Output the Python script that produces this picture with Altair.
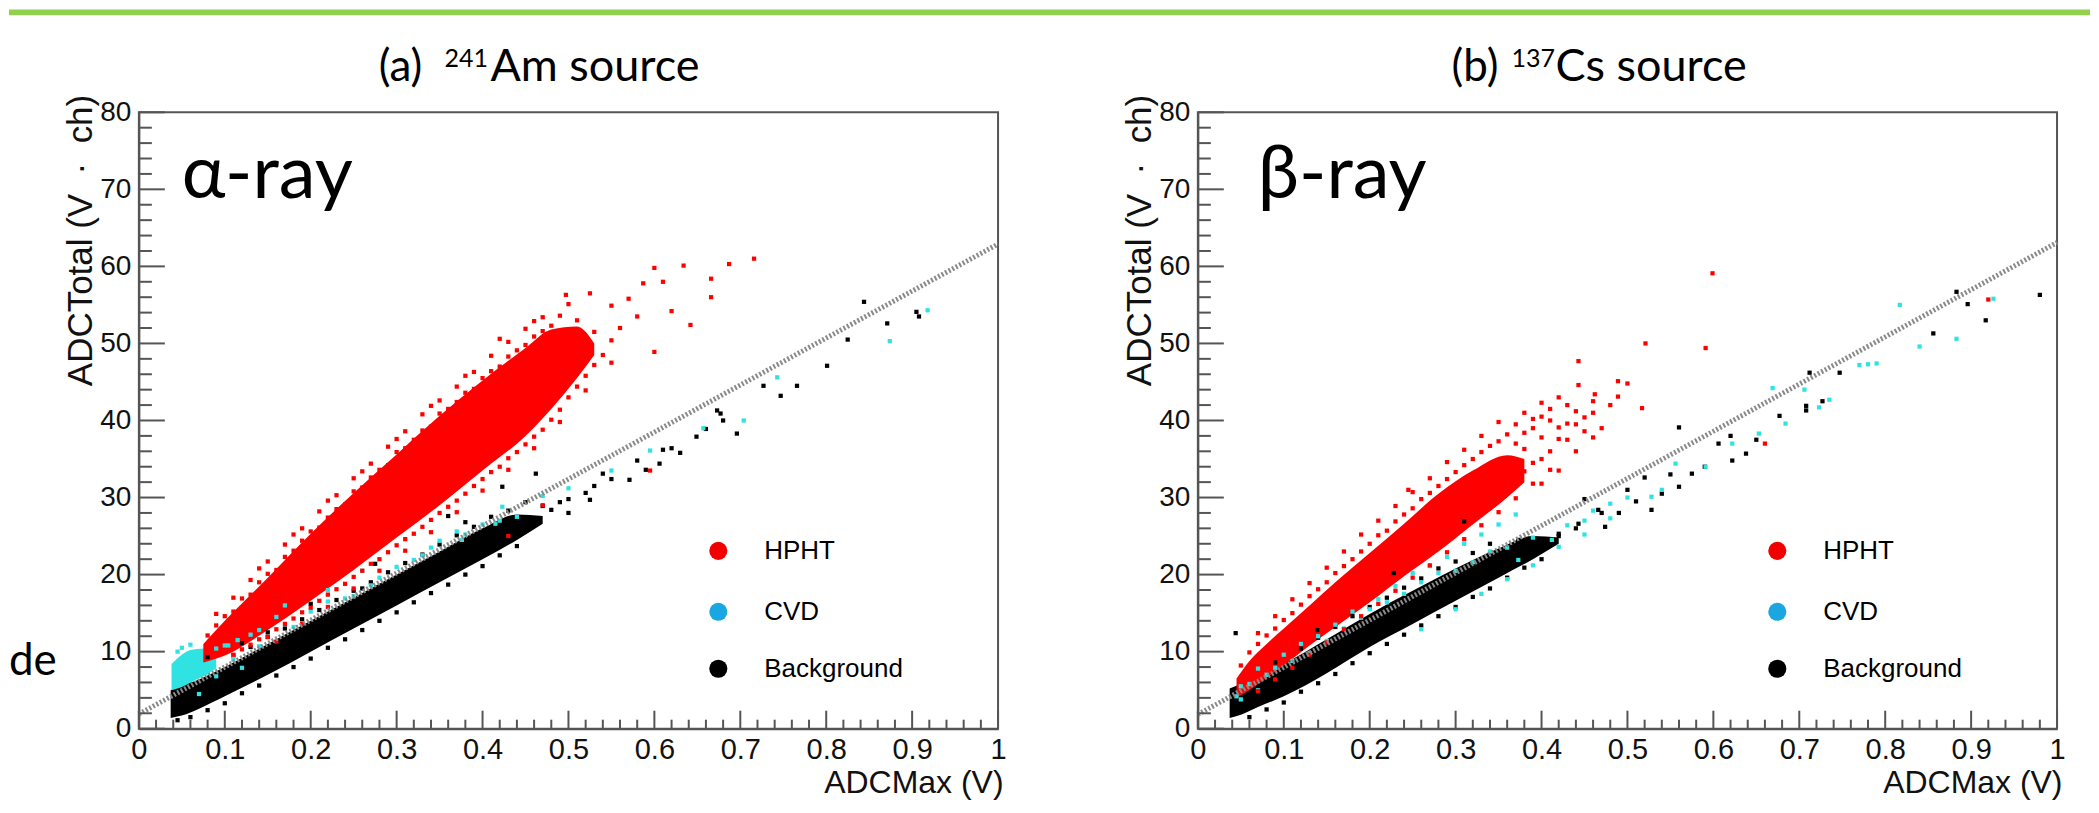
import altair as alt
import pandas as pd

PW, PH = 860, 617
RED, CYAN, BLACK = "#ff0000", "#2fe3e3", "#000000"
LEG_COLORS = ["#f20000", "#1aa6e0", "#000000"]
LEG_LABELS = ["HPHT", "CVD", "Background"]

X_MAJOR = [0, 0.1, 0.2, 0.3, 0.4, 0.5, 0.6, 0.7, 0.8, 0.9, 1.0]
X_MINOR = [round(i * 0.02, 2) for i in range(51) if i % 5]
Y_MAJOR = [0, 10, 20, 30, 40, 50, 60, 70, 80]
Y_MINOR = [v for v in range(0, 81, 2) if v % 10]

# ---------------- panel (a) 241Am source ----------------
A_LINE_X = [0.0, 1.0]
A_LINE_Y = [1.9, 62.9]

A_RED_CORE_X = [0.075, 0.10, 0.15, 0.20, 0.25, 0.30, 0.35, 0.40, 0.45, 0.48, 0.51, 0.53]
A_RED_CORE_LO = [8.6, 9.5, 12.8, 16.6, 20.6, 24.8, 29.0, 33.5, 38.0, 41.5, 45.5, 48.5]
A_RED_CORE_HI = [11.0, 14.0, 19.6, 25.3, 30.6, 35.6, 40.6, 45.2, 49.4, 51.8, 52.2, 50.0]

A_BG_CORE_X = [0.037, 0.05, 0.07, 0.10, 0.15, 0.20, 0.25, 0.30, 0.35, 0.40, 0.44, 0.47]
A_BG_CORE_LO = [1.4, 1.7, 2.6, 4.2, 7.0, 10.0, 13.0, 16.0, 19.0, 22.0, 24.5, 26.6]
A_BG_CORE_HI = [5.0, 5.6, 6.4, 8.0, 11.0, 14.0, 17.0, 20.0, 23.0, 26.0, 27.8, 27.6]

A_CVD_CORE_X = [0.038, 0.05, 0.06, 0.075, 0.09]
A_CVD_CORE_LO = [5.0, 5.4, 6.0, 6.8, 7.8]
A_CVD_CORE_HI = [8.4, 9.6, 10.2, 10.4, 9.8]

A_RED_PTS = [
    # upper fringe
    (0.08, 12.1), (0.09, 13.4), (0.10, 14.6), (0.11, 15.2), (0.12, 16.9), (0.13, 17.4), (0.14, 19.0),
    (0.15, 20.1), (0.16, 20.6), (0.17, 22.3), (0.18, 23.1), (0.19, 24.4), (0.20, 25.6), (0.21, 26.1),
    (0.22, 27.4), (0.23, 28.5), (0.24, 29.1), (0.25, 30.8), (0.26, 31.3), (0.27, 32.6), (0.28, 33.6),
    (0.29, 34.2), (0.30, 35.9), (0.31, 36.4), (0.32, 37.5), (0.33, 38.7), (0.34, 39.2), (0.35, 40.9),
    (0.36, 41.5), (0.37, 42.4), (0.38, 43.6), (0.39, 44.1), (0.40, 45.5), (0.41, 46.4), (0.42, 47.0),
    (0.43, 48.3), (0.44, 49.1), (0.45, 49.8), (0.46, 50.9), (0.47, 51.6), (0.48, 52.3),
    (0.09, 14.9), (0.11, 17.0), (0.13, 19.3), (0.15, 21.7), (0.17, 23.9), (0.19, 26.0), (0.21, 28.2),
    (0.23, 30.3), (0.25, 32.5), (0.27, 34.4), (0.29, 36.6), (0.31, 38.6), (0.33, 40.8), (0.35, 42.6),
    (0.37, 44.4), (0.39, 46.3), (0.41, 48.4), (0.43, 50.2), (0.45, 51.9), (0.47, 53.4),
    (0.14, 20.8), (0.18, 25.2), (0.22, 29.6), (0.26, 33.4), (0.30, 37.6), (0.34, 41.9), (0.38, 45.8),
    (0.42, 50.6), (0.46, 52.9), (0.49, 53.6), (0.50, 55.1),
    # lower fringe
    (0.11, 9.6), (0.12, 10.3), (0.13, 10.9), (0.14, 11.6), (0.15, 11.9), (0.16, 12.9), (0.17, 13.6),
    (0.18, 14.3), (0.19, 15.1), (0.20, 15.7), (0.21, 16.6), (0.22, 17.4), (0.23, 18.1), (0.24, 18.8),
    (0.25, 19.7), (0.26, 20.5), (0.27, 21.4), (0.28, 22.0), (0.29, 22.9), (0.30, 23.8), (0.31, 24.6),
    (0.32, 25.3), (0.33, 26.2), (0.34, 27.1), (0.35, 28.0), (0.36, 28.8), (0.37, 29.6), (0.38, 30.5),
    (0.39, 31.5), (0.40, 32.4), (0.41, 33.3), (0.42, 34.0), (0.43, 35.1), (0.44, 35.9), (0.45, 36.9),
    (0.46, 37.9), (0.47, 38.8), (0.48, 40.1), (0.49, 41.4), (0.50, 43.0), (0.51, 44.4), (0.52, 45.8),
    (0.53, 47.2), (0.54, 48.5),
    (0.16, 11.3), (0.19, 13.6), (0.22, 15.8), (0.25, 18.2), (0.28, 20.5), (0.31, 23.1), (0.34, 25.5),
    (0.37, 28.1), (0.40, 30.9), (0.43, 33.6), (0.46, 36.4), (0.49, 39.8), (0.52, 43.9), (0.55, 47.5),
    # sparse upper tail
    (0.497, 56.3), (0.51, 53.0), (0.525, 56.5), (0.53, 51.5), (0.55, 54.9), (0.55, 50.4), (0.56, 52.0),
    (0.57, 55.8), (0.58, 53.5), (0.587, 57.8), (0.60, 59.8), (0.60, 48.9), (0.61, 58.0), (0.62, 54.2),
    (0.634, 60.1), (0.642, 52.4), (0.666, 58.4), (0.666, 56.0), (0.687, 60.3), (0.716, 61.0),
    # strays
    (0.43, 25.0), (0.47, 29.0), (0.595, 33.5),
]

A_BG_PTS = [
    (0.045, 1.1), (0.06, 1.5), (0.08, 2.4), (0.10, 3.3), (0.12, 4.6), (0.14, 5.6), (0.16, 6.9),
    (0.18, 8.0), (0.20, 9.1), (0.22, 10.5), (0.24, 11.6), (0.26, 12.8), (0.28, 14.0), (0.30, 15.1),
    (0.32, 16.4), (0.34, 17.6), (0.36, 18.7), (0.38, 20.0), (0.40, 21.1), (0.42, 22.5), (0.44, 23.7),
    (0.11, 9.5), (0.13, 10.6), (0.15, 11.9), (0.17, 13.0), (0.19, 14.2), (0.21, 15.4), (0.23, 16.7),
    (0.25, 17.9), (0.27, 19.0), (0.29, 20.3), (0.31, 21.5), (0.33, 22.6), (0.35, 23.9), (0.37, 25.1),
    (0.39, 26.2), (0.41, 27.5), (0.43, 28.3),
    (0.08, 9.3), (0.12, 11.1), (0.15, 12.5), (0.20, 16.2), (0.26, 18.2), (0.275, 21.4), (0.36, 27.6),
    (0.38, 26.8), (0.423, 31.4), (0.45, 29.4), (0.462, 33.1),
    (0.46, 27.1), (0.47, 28.9), (0.48, 28.4), (0.49, 29.4), (0.50, 28.0), (0.50, 29.8), (0.52, 30.6),
    (0.525, 29.7), (0.53, 31.5), (0.54, 33.1), (0.55, 32.4), (0.571, 32.3), (0.58, 34.8), (0.59, 33.6),
    (0.606, 34.4), (0.61, 36.2), (0.62, 36.4), (0.63, 35.8), (0.649, 37.9), (0.66, 38.9), (0.673, 41.3),
    (0.677, 40.9), (0.68, 40.0), (0.696, 38.3), (0.727, 44.5), (0.747, 43.2), (0.766, 44.5),
    (0.801, 47.1), (0.825, 50.5), (0.844, 55.4), (0.871, 52.6), (0.905, 54.1), (0.908, 53.5),
]

A_CVD_PTS = [
    (0.045, 10.0), (0.05, 10.5), (0.06, 10.9), (0.07, 4.5), (0.09, 10.4), (0.09, 6.8), (0.10, 10.8),
    (0.104, 10.8), (0.11, 9.4), (0.115, 11.5), (0.12, 7.9), (0.13, 12.2), (0.14, 12.8), (0.16, 14.5),
    (0.17, 16.0), (0.20, 15.2), (0.22, 16.5), (0.22, 18.0), (0.25, 17.2), (0.26, 20.5), (0.27, 18.6),
    (0.30, 21.0), (0.33, 22.5), (0.35, 24.4), (0.376, 24.5), (0.38, 25.2), (0.40, 26.5), (0.415, 26.6),
    (0.423, 28.8), (0.44, 27.5), (0.47, 30.2), (0.50, 31.2), (0.55, 33.5), (0.595, 36.1), (0.657, 39.0),
    (0.704, 40.0), (0.743, 45.6), (0.874, 50.3), (0.918, 54.3),
    (0.08, 7.3), (0.11, 8.9), (0.14, 10.7), (0.18, 13.2), (0.24, 16.9), (0.28, 19.6), (0.32, 21.9),
    (0.34, 23.5), (0.37, 25.6), (0.42, 27.0),
]

# ---------------- panel (b) 137Cs source ----------------
B_LINE_X = [0.0, 1.0]
B_LINE_Y = [1.85, 63.1]

B_RED_CORE_X = [0.045, 0.06, 0.08, 0.10, 0.13, 0.16, 0.20, 0.24, 0.28, 0.32, 0.36, 0.38]
B_RED_CORE_LO = [4.0, 5.0, 6.6, 8.2, 10.8, 13.2, 16.4, 19.8, 23.0, 26.5, 30.0, 32.0]
B_RED_CORE_HI = [6.5, 8.8, 11.0, 13.0, 16.0, 19.0, 22.8, 26.6, 30.5, 33.5, 35.5, 35.0]

B_BG_CORE_X = [0.037, 0.05, 0.07, 0.10, 0.15, 0.20, 0.25, 0.30, 0.35, 0.39, 0.42]
B_BG_CORE_LO = [1.4, 1.8, 2.8, 4.2, 7.2, 10.6, 13.6, 16.6, 19.6, 22.0, 24.0]
B_BG_CORE_HI = [5.2, 5.8, 6.8, 8.4, 11.6, 14.9, 17.9, 20.8, 23.4, 25.0, 24.8]

B_RED_PTS = [
    # upper fringe
    (0.05, 8.2), (0.06, 9.9), (0.07, 11.0), (0.08, 12.1), (0.09, 13.0), (0.10, 14.1), (0.11, 15.0),
    (0.12, 16.1), (0.13, 17.2), (0.14, 18.1), (0.15, 19.0), (0.16, 20.2), (0.17, 21.1), (0.18, 22.0),
    (0.19, 23.0), (0.20, 24.0), (0.21, 25.1), (0.22, 25.7), (0.23, 26.9), (0.24, 27.8), (0.25, 28.6),
    (0.26, 29.8), (0.27, 30.6), (0.28, 31.5), (0.29, 32.4), (0.30, 33.3), (0.31, 34.2), (0.32, 35.0),
    (0.33, 35.9), (0.34, 36.7), (0.35, 37.3), (0.36, 38.2),
    (0.07, 12.4), (0.09, 14.6), (0.11, 16.8), (0.13, 18.9), (0.15, 20.9), (0.17, 23.0), (0.19, 25.2),
    (0.21, 27.0), (0.23, 28.9), (0.25, 30.7), (0.27, 32.5), (0.29, 34.6), (0.31, 36.2), (0.33, 38.0),
    (0.35, 39.8), (0.245, 31.0),
    # lower fringe
    (0.07, 4.9), (0.09, 6.4), (0.11, 7.9), (0.13, 9.6), (0.15, 11.2), (0.17, 12.9), (0.19, 14.6),
    (0.21, 16.2), (0.23, 17.9), (0.25, 19.6), (0.27, 21.2), (0.29, 22.9), (0.31, 24.6), (0.33, 26.4),
    (0.35, 28.1), (0.37, 29.9), (0.39, 31.8), (0.41, 33.6),
    # sparser upper part
    (0.37, 33.0), (0.38, 36.3), (0.39, 34.5), (0.40, 37.8), (0.41, 36.0), (0.42, 39.1), (0.43, 37.5),
    (0.44, 41.2), (0.45, 38.6), (0.46, 42.5), (0.37, 37.0), (0.39, 39.0), (0.41, 40.0), (0.36, 34.3),
    (0.38, 38.4), (0.40, 40.5), (0.37, 39.5), (0.38, 41.0), (0.39, 40.2), (0.40, 42.3), (0.41, 41.5),
    (0.42, 43.0), (0.43, 42.0), (0.443, 47.7), (0.443, 44.6), (0.462, 43.4), (0.489, 45.1), (0.50, 44.8),
    (0.489, 43.1), (0.517, 41.6), (0.521, 50.0), (0.591, 49.4), (0.599, 59.1), (0.44, 39.5), (0.45, 40.4),
    (0.46, 41.0), (0.47, 39.0), (0.48, 42.0), (0.38, 33.4), (0.40, 35.0), (0.42, 37.6), (0.40, 31.8),
    (0.42, 33.5), (0.44, 36.0), (0.46, 37.8), (0.43, 39.6),
    (0.66, 37.0), (0.92, 55.7),
]

B_BG_PTS = [
    (0.06, 1.5), (0.08, 2.5), (0.10, 3.4), (0.12, 4.8), (0.14, 5.9), (0.16, 7.1), (0.18, 8.5),
    (0.20, 9.8), (0.22, 11.0), (0.24, 12.2), (0.26, 13.4), (0.28, 14.6), (0.30, 15.8), (0.32, 17.1),
    (0.34, 18.2), (0.36, 19.6), (0.38, 20.9), (0.40, 22.0),
    (0.09, 8.6), (0.12, 10.4), (0.14, 11.8), (0.16, 13.2), (0.18, 14.6), (0.20, 15.8), (0.22, 17.0),
    (0.24, 18.3), (0.26, 19.5), (0.28, 20.8), (0.30, 21.7), (0.32, 22.8), (0.34, 24.0),
    (0.36, 21.8), (0.373, 24.5), (0.38, 22.6), (0.40, 23.5), (0.42, 25.0), (0.42, 25.3), (0.44, 26.0),
    (0.443, 26.6), (0.466, 28.4), (0.474, 26.2), (0.47, 28.0), (0.49, 28.0), (0.50, 31.0), (0.51, 29.5),
    (0.52, 32.6), (0.528, 28.4), (0.54, 30.5), (0.55, 33.0), (0.56, 31.4), (0.575, 33.1), (0.59, 34.0),
    (0.606, 37.0), (0.62, 38.0), (0.622, 34.8), (0.638, 35.7), (0.56, 39.1), (0.65, 37.5), (0.677, 40.6),
    (0.708, 41.3), (0.708, 41.9), (0.712, 46.2), (0.727, 42.5), (0.747, 46.2), (0.856, 51.3),
    (0.883, 56.7), (0.896, 55.1), (0.917, 53.0), (0.98, 56.3), (0.45, 29.8),
    (0.044, 12.4), (0.139, 12.8), (0.228, 20.2), (0.31, 26.9),
]

B_CVD_PTS = [
    (0.045, 4.2), (0.05, 3.8), (0.05, 5.5), (0.06, 5.8), (0.07, 5.0), (0.07, 7.8), (0.08, 7.0),
    (0.09, 7.9), (0.10, 9.6), (0.11, 8.8), (0.12, 11.0), (0.13, 9.8), (0.14, 12.0), (0.15, 11.4),
    (0.16, 13.5), (0.17, 13.0), (0.18, 15.2), (0.19, 14.4), (0.20, 15.5), (0.21, 16.8), (0.22, 16.4),
    (0.23, 18.5), (0.24, 17.5), (0.25, 20.2), (0.26, 19.0), (0.27, 21.1), (0.28, 20.2), (0.29, 22.3),
    (0.30, 20.5), (0.31, 24.0), (0.32, 21.6), (0.33, 25.2), (0.34, 23.0), (0.35, 26.5), (0.36, 23.5),
    (0.37, 27.8), (0.373, 21.9), (0.39, 24.8), (0.412, 24.5), (0.43, 26.4), (0.45, 27.0), (0.46, 28.3),
    (0.48, 29.2), (0.50, 30.0), (0.528, 30.1), (0.54, 31.0), (0.556, 34.4), (0.591, 34.0), (0.622, 37.0),
    (0.653, 38.3), (0.684, 39.6), (0.723, 41.7), (0.669, 44.2), (0.706, 44.0), (0.735, 42.7),
    (0.77, 47.2), (0.78, 47.3), (0.79, 47.4), (0.817, 55.0), (0.84, 49.6), (0.883, 50.6), (0.926, 55.8),
    (0.26, 12.9), (0.30, 15.5), (0.33, 17.5), (0.36, 19.4), (0.39, 21.2), (0.42, 23.6), (0.45, 25.2),
    (0.48, 27.3),
]

ONE = pd.DataFrame({"k": [0]})
YTITLE = "ADCTotal (V\u00a0\u00a0·\u00a0\u00a0ch)"

X_SCALE = alt.Scale(domain=[0, 1], nice=False, zero=False)
Y_SCALE = alt.Scale(domain=[0, 80], nice=False, zero=False)
X_AXIS = alt.Axis(values=X_MAJOR, format="~g", title="ADCMax (V)", ticks=False, grid=False,
                  labelFontSize=29, labelPadding=7, labelFlush=False, labelOverlap=False,
                  titleFontSize=32, titleX=865, titleY=64, titleAlign="right",
                  titleBaseline="alphabetic", titleAngle=0)
Y_AXIS = alt.Axis(values=Y_MAJOR, format="d", title=YTITLE, ticks=False, grid=False,
                  labelFontSize=28, labelPadding=8, labelFlush=False, labelOverlap=False,
                  titleFontSize=35, titleAngle=270, titleX=-47, titleY=-18, titleAlign="right",
                  titleBaseline="alphabetic")


def xe(f):
    return alt.X(f"{f}:Q", scale=X_SCALE, axis=X_AXIS)


def ye(f):
    return alt.Y(f"{f}:Q", scale=Y_SCALE, axis=Y_AXIS)


def core(xs, lo, hi, color):
    df = pd.DataFrame({"x": xs, "lo": lo, "hi": hi})
    return alt.Chart(df).mark_area(color=color, interpolate="monotone").encode(
        x=xe("x"), y=ye("lo"), y2="hi:Q")


def pts(p, color):
    df = pd.DataFrame(p, columns=["x", "y"])
    return alt.Chart(df).mark_square(size=18, color=color, opacity=1).encode(x=xe("x"), y=ye("y"))


def text(t, x, y, size, font="Lato, Open Sans", align="left", baseline="alphabetic"):
    return alt.Chart(ONE).mark_text(text=t, font=font, fontSize=size, align=align,
                                    baseline=baseline, color="#000").encode(
        x=alt.value(x), y=alt.value(y))


def panel(cores, points, line_x, line_y, title_parts, ray, ray_x, extra=()):
    layers = list(extra)
    layers += cores
    layers += points
    ldf = pd.DataFrame({"x": line_x, "y": line_y})
    layers.append(alt.Chart(ldf).mark_line(color="#8a8a8a", strokeWidth=5, strokeDash=[2, 2]).encode(
        x=xe("x"), y=ye("y")))
    # inside ticks
    layers.append(alt.Chart(pd.DataFrame({"v": X_MAJOR})).mark_rule(color="#555", strokeWidth=2).encode(
        x=xe("v"), y=alt.value(PH), y2=alt.value(PH - 18)))
    layers.append(alt.Chart(pd.DataFrame({"v": X_MINOR})).mark_rule(color="#555", strokeWidth=2).encode(
        x=xe("v"), y=alt.value(PH), y2=alt.value(PH - 9)))
    layers.append(alt.Chart(pd.DataFrame({"v": Y_MAJOR})).mark_rule(color="#555", strokeWidth=2).encode(
        y=ye("v"), x=alt.value(0), x2=alt.value(26)))
    layers.append(alt.Chart(pd.DataFrame({"v": Y_MINOR})).mark_rule(color="#555", strokeWidth=2).encode(
        y=ye("v"), x=alt.value(0), x2=alt.value(13)))
    # legend
    for i, (lab, col) in enumerate(zip(LEG_LABELS, LEG_COLORS)):
        yy = [439, 500, 557][i]
        layers.append(alt.Chart(ONE).mark_point(shape="circle", filled=True, size=330, color=col,
                                                opacity=1).encode(x=alt.value(580), y=alt.value(yy)))
        layers.append(text(lab, 626, yy, 26, font="Liberation Sans", baseline="middle"))
    # titles
    for (t, x, y, s) in title_parts:
        layers.append(text(t, x, y, s))
    layers.append(text(ray, ray_x, 86, 74))
    return alt.layer(*layers).properties(width=PW, height=PH)


green = alt.Chart(ONE).mark_rect(color="#92d050").encode(
    x=alt.value(-130), x2=alt.value(1953), y=alt.value(-103), y2=alt.value(-97))
de_text = text("de", -130, 563, 44)

left = panel(
    [core(A_BG_CORE_X, A_BG_CORE_LO, A_BG_CORE_HI, BLACK),
     core(A_CVD_CORE_X, A_CVD_CORE_LO, A_CVD_CORE_HI, CYAN),
     core(A_RED_CORE_X, A_RED_CORE_LO, A_RED_CORE_HI, RED)],
    [pts(A_BG_PTS, BLACK), pts(A_CVD_PTS, CYAN), pts(A_RED_PTS, RED)],
    A_LINE_X, A_LINE_Y,
    [("(a)", 240, -31, 44), ("241", 306, -45, 25), ("Am source", 352, -31, 45)],
    "α-ray", 43, extra=(green, de_text))

right = panel(
    [core(B_BG_CORE_X, B_BG_CORE_LO, B_BG_CORE_HI, BLACK),
     core(B_RED_CORE_X, B_RED_CORE_LO, B_RED_CORE_HI, RED)],
    [pts(B_BG_PTS, BLACK), pts(B_CVD_PTS, CYAN), pts(B_RED_PTS, RED)],
    B_LINE_X, B_LINE_Y,
    [("(b)", 254, -31, 44), ("137", 314, -45, 25), ("Cs source", 358, -31, 45)],
    "β-ray", 60)

chart = alt.hconcat(left, right, spacing=200, bounds="flush").properties(
    padding=0, background="white"
).configure_view(stroke="#555555", strokeWidth=2).configure_axis(
    domainColor="#555555", domainWidth=2, labelFont="Liberation Sans", titleFont="Liberation Sans",
    labelColor="#111111", titleColor="#111111", titleFontWeight="normal")

chart.save("out.html", embed_options={"renderer": "svg", "actions": False})
